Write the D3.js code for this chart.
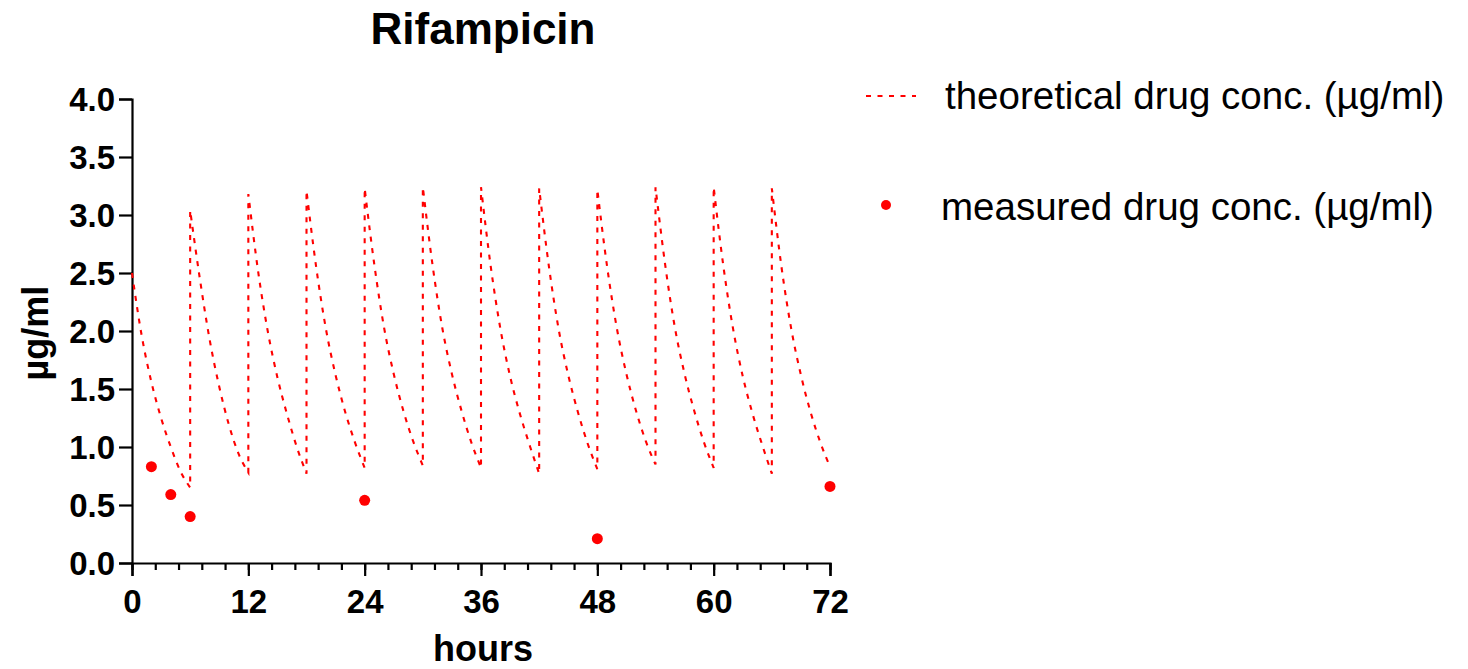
<!DOCTYPE html>
<html>
<head>
<meta charset="utf-8">
<script src="https://cdn.jsdelivr.net/npm/d3@7"></script>
<style>
  html, body { margin: 0; padding: 0; background: #fff; }
  svg { display: block; }
  text { font-family: "Liberation Sans", Arial, sans-serif; }
</style>
</head>
<body>
<svg id="chart" width="1468" height="669"></svg>
<script>
// ---- Data ----
const chartTitle = "Rifampicin";
const xLabel = "hours";
const yLabel = "µg/ml";
const xTicks = [0, 12, 24, 36, 48, 60, 72];
const yTicks = [0.0, 0.5, 1.0, 1.5, 2.0, 2.5, 3.0, 3.5, 4.0];
const legendLabels = ["theoretical drug conc. (µg/ml)", "measured drug conc. (µg/ml)"];

// theoretical curve: dose times and hourly values read within each 6 h interval
const doseTimes = [0, 6, 12, 18, 24, 30, 36, 42, 48, 54, 60, 66];
const cycleHours = [0, 1, 2, 3, 4, 5, 6];
const cycleValues = [
  [2.50, 1.96, 1.56, 1.25, 1.00, 0.79, 0.65],
  [3.04, 2.45, 1.93, 1.52, 1.19, 0.94, 0.78],
  [3.18, 2.52, 2.00, 1.60, 1.28, 1.00, 0.77],
  [3.21, 2.55, 2.02, 1.62, 1.30, 1.04, 0.82],
  [3.23, 2.57, 2.03, 1.63, 1.31, 1.05, 0.84],
  [3.24, 2.57, 2.03, 1.63, 1.31, 1.04, 0.82],
  [3.24, 2.56, 2.02, 1.61, 1.29, 1.02, 0.77],
  [3.23, 2.56, 2.02, 1.62, 1.30, 1.03, 0.81],
  [3.22, 2.56, 2.03, 1.63, 1.31, 1.05, 0.85],
  [3.24, 2.57, 2.03, 1.63, 1.31, 1.04, 0.82],
  [3.24, 2.56, 2.02, 1.61, 1.29, 1.02, 0.77],
  [3.23, 2.55, 2.02, 1.62, 1.30, 1.04, 0.83]
];

// measured points
const measuredHours = [2, 4, 6, 24, 48, 72];
const measuredValues = [0.83, 0.59, 0.40, 0.54, 0.21, 0.66];

// ---- Drawing ----
const svg = d3.select("#chart");
const red = "#ff0000";

const x = d3.scaleLinear().domain([0, 72]).range([132, 830]);
const y = d3.scaleLinear().domain([0, 4]).range([563, 99]);

// Axes
const xAxisMinor = d3.axisBottom(x).tickValues(d3.range(0, 72.001, 2.4)).tickSize(7).tickFormat("");
const xAxis = d3.axisBottom(x).tickValues(xTicks).tickSize(13).tickPadding(14).tickFormat(d3.format("d"));
const yAxis = d3.axisLeft(y).tickValues(yTicks).tickSize(13).tickPadding(4).tickFormat(d3.format(".1f"));

const gxm = svg.append("g").attr("transform", `translate(0,${y(0)})`).call(xAxisMinor);
const gx = svg.append("g").attr("transform", `translate(0,${y(0)})`).call(xAxis);
const gy = svg.append("g").attr("transform", `translate(${x(0)},0)`).call(yAxis);

[gxm, gx, gy].forEach(g => {
  g.select(".domain").attr("stroke", "#000").attr("stroke-width", 2.2);
  g.selectAll(".tick line").attr("stroke", "#000").attr("stroke-width", 2.2);
});
gxm.select(".domain").remove();
gx.selectAll(".tick text")
  .attr("font-size", 33).attr("font-weight", "bold").attr("fill", "#000")
  .attr("font-family", "'Liberation Sans', Arial, sans-serif");
gy.selectAll(".tick text")
  .attr("font-size", 33).attr("font-weight", "bold").attr("fill", "#000")
  .attr("font-family", "'Liberation Sans', Arial, sans-serif")
  .attr("dy", "0.36em");

// theoretical dashed curve
const line = d3.line()
  .x(d => x(d[0]))
  .y(d => y(d[1]))
  .curve(d3.curveMonotoneX);

const pathParts = doseTimes.map((t0, i) => {
  const pts = cycleHours.map((h, j) => [t0 + h, cycleValues[i][j]]);
  const s = line(pts);
  return i === 0 ? s : s.replace(/^M/, "L");
});

svg.append("path")
  .attr("d", pathParts.join(""))
  .attr("fill", "none")
  .attr("stroke", red)
  .attr("stroke-width", 2.1)
  .attr("stroke-dasharray", "5,6.5");

// measured points
svg.append("g").selectAll("circle")
  .data(measuredHours.map((h, i) => [h, measuredValues[i]]))
  .join("circle")
  .attr("cx", d => x(d[0]))
  .attr("cy", d => y(d[1]))
  .attr("r", 5.5)
  .attr("fill", red);

// Title
svg.append("text")
  .attr("x", 483).attr("y", 44)
  .attr("text-anchor", "middle")
  .attr("font-size", 44).attr("font-weight", "bold")
  .text(chartTitle);

// Axis titles
svg.append("text")
  .attr("x", 483).attr("y", 661)
  .attr("text-anchor", "middle")
  .attr("font-size", 36).attr("font-weight", "bold")
  .text(xLabel);

svg.append("text")
  .attr("transform", `translate(48,333) rotate(-90)`)
  .attr("text-anchor", "middle")
  .attr("font-size", 36).attr("font-weight", "bold")
  .text(yLabel);

// Legend
const lg = svg.append("g");
lg.append("line")
  .attr("x1", 866).attr("x2", 916)
  .attr("y1", 96).attr("y2", 96)
  .attr("stroke", red).attr("stroke-width", 2)
  .attr("stroke-dasharray", "5,6.5");
lg.append("text")
  .attr("x", 945).attr("y", 109)
  .attr("font-size", 38.5)
  .text(legendLabels[0]);
lg.append("circle")
  .attr("cx", 886).attr("cy", 205).attr("r", 5)
  .attr("fill", red);
lg.append("text")
  .attr("x", 941).attr("y", 220)
  .attr("font-size", 38.5)
  .text(legendLabels[1]);
</script>
</body>
</html>
